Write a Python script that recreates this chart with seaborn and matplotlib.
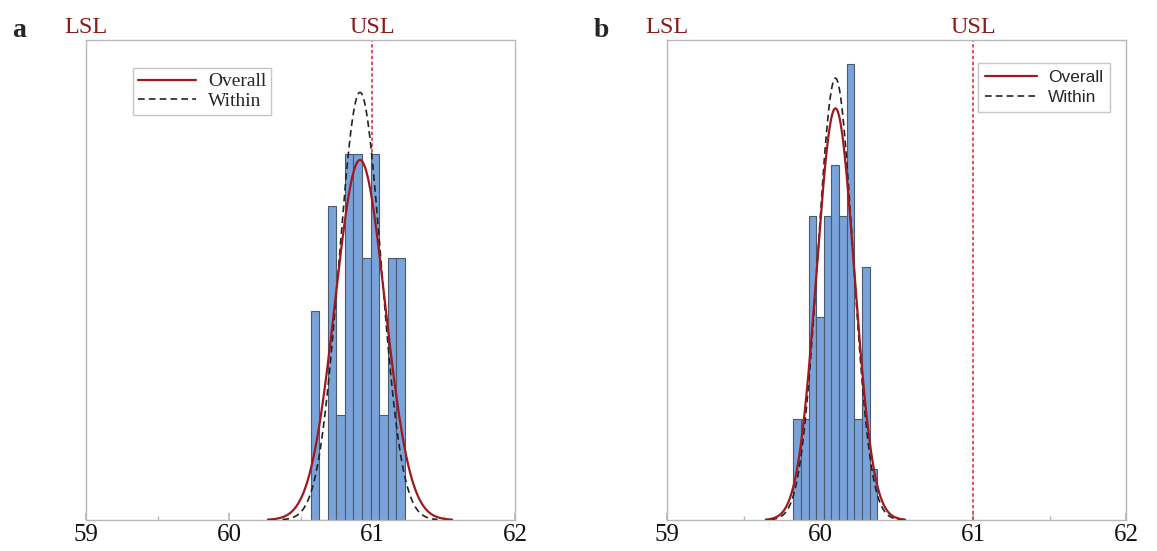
import numpy as np
import pandas as pd
import matplotlib
matplotlib.use("Agg")
import matplotlib.pyplot as plt
import matplotlib.transforms as mtransforms
from matplotlib.ticker import MultipleLocator
from matplotlib.lines import Line2D
import seaborn as sns

# ---------------- data ----------------
# panel a
edges_a = [60.57, 60.63, 60.69, 60.75, 60.81, 60.87, 60.93, 60.99, 61.05, 61.11, 61.17, 61.23]
counts_a = [4, 0, 6, 2, 7, 7, 5, 7, 2, 5, 5]
mean_a = 60.916
sigma_overall_a = 0.174
sigma_within_a = 0.1465

# panel b
edges_b = [59.825, 59.875, 59.925, 59.975, 60.025, 60.075, 60.125, 60.175, 60.225, 60.275, 60.325, 60.375]
counts_b = [2, 2, 6, 4, 6, 7, 6, 9, 2, 5, 1]
mean_b = 60.101
sigma_overall_b = 0.1228
sigma_within_b = 0.1144

LSL = 59
USL = 61
x_ticks = [59, 60, 61, 62]
panel_labels = ["a", "b"]
legend_labels = ["Overall", "Within"]

# ---------------- style ----------------
sns.set_theme(style="white")
plt.rcParams['font.family'] = ['Liberation Serif', 'DejaVu Serif']

BAR = "#7aa3da"
BAR_EDGE = "#4a5a70"
RED = "#9e1a1f"
SPEC = "#e0303a"
FRAME = "#b8b8b8"
LABEL_RED = "#8b1a1a"

fig = plt.figure(figsize=(11.57, 5.51), dpi=100)
W, H = 1157, 551
ax_a = fig.add_axes([86 / W, 1 - 520 / H, 429 / W, 480 / H])
ax_b = fig.add_axes([667 / W, 1 - 520 / H, 459 / W, 480 / H])


def normal_curve(mean, sigma, n, bw, k=3.7, num=300):
    x = np.linspace(mean - k * sigma, mean + k * sigma, num)
    y = n * bw * np.exp(-0.5 * ((x - mean) / sigma) ** 2) / (sigma * np.sqrt(2 * np.pi))
    return x, y


def draw_panel(ax, edges, counts, mean, s_over, s_within, ymax, legend_anchor,
               legend_font, legend_size, legend_spacing, legend_pad):
    edges_arr = np.array(edges)
    centers = (edges_arr[:-1] + edges_arr[1:]) / 2
    bw = edges_arr[1] - edges_arr[0]
    n = sum(counts)
    df = pd.DataFrame({"x": centers, "w": counts})
    sns.histplot(data=df, x="x", weights="w", bins=list(edges), ax=ax, color=BAR,
                 edgecolor=BAR_EDGE, linewidth=0.8, alpha=1.0, zorder=2)
    xo, yo = normal_curve(mean, s_over, n, bw)
    xw, yw = normal_curve(mean, s_within, n, bw)
    sns.lineplot(x=xw, y=yw, ax=ax, color="#222222", linestyle=(0, (4, 2.5)),
                 linewidth=1.2, zorder=3)
    sns.lineplot(x=xo, y=yo, ax=ax, color=RED, linewidth=1.6, zorder=4)
    for v in (LSL, USL):
        ax.axvline(v, color=SPEC, linestyle=(0, (2, 1.5)), linewidth=1.2, zorder=1)
    trans = mtransforms.blended_transform_factory(ax.transData, ax.transAxes)
    ax.text(LSL, 1.015, "LSL", transform=trans, ha="center", va="baseline",
            color=LABEL_RED, fontsize=17.5, family=['Liberation Serif'])
    ax.text(USL, 1.015, "USL", transform=trans, ha="center", va="baseline",
            color=LABEL_RED, fontsize=17.5, family=['Liberation Serif'])

    ax.set_xlim(59, 62)
    ax.set_ylim(0, ymax)
    ax.set_xticks(x_ticks)
    ax.set_xticklabels([str(t) for t in x_ticks], fontsize=18, family=['Liberation Serif'])
    ax.xaxis.set_minor_locator(MultipleLocator(0.5))
    ax.tick_params(axis="x", which="major", direction="in", length=5, color=FRAME,
                   bottom=True, pad=3, colors="#111111")
    ax.tick_params(axis="x", which="major", color=FRAME)
    ax.tick_params(axis="x", which="minor", direction="in", length=3, color=FRAME,
                   bottom=True)
    ax.set_yticks([])
    ax.set_xlabel("")
    ax.set_ylabel("")
    for sp in ax.spines.values():
        sp.set_visible(True)
        sp.set_color(FRAME)
        sp.set_linewidth(1.0)

    handles = [Line2D([0], [0], color=RED, linewidth=1.6),
               Line2D([0], [0], color="#222222", linestyle=(0, (4, 2.5)), linewidth=1.2)]
    leg = ax.legend(handles, legend_labels, loc="upper left", bbox_to_anchor=legend_anchor,
                    borderaxespad=0, fancybox=False, frameon=True, handlelength=3.0,
                    handletextpad=0.6, borderpad=legend_pad, labelspacing=legend_spacing,
                    prop={"family": legend_font, "size": legend_size})
    leg.get_frame().set_edgecolor(FRAME)
    leg.get_frame().set_linewidth(1.0)


draw_panel(ax_a, edges_a, counts_a, mean_a, sigma_overall_a, sigma_within_a, 9.17,
           (0.11, 0.942), ['Liberation Serif'], 14, 0.1, 0.25)
draw_panel(ax_b, edges_b, counts_b, mean_b, sigma_overall_b, sigma_within_b, 9.47,
           (0.678, 0.952), ['Liberation Sans'], 12.5, 0.3, 0.4)

fig.text(12 / W, 1 - 37 / H, panel_labels[0], fontsize=20, fontweight="bold",
         ha="left", va="baseline", family=['Liberation Serif'])
fig.text(594 / W, 1 - 37 / H, panel_labels[1], fontsize=20, fontweight="bold",
         ha="left", va="baseline", family=['Liberation Serif'])

fig.savefig("out.png", dpi=100)
